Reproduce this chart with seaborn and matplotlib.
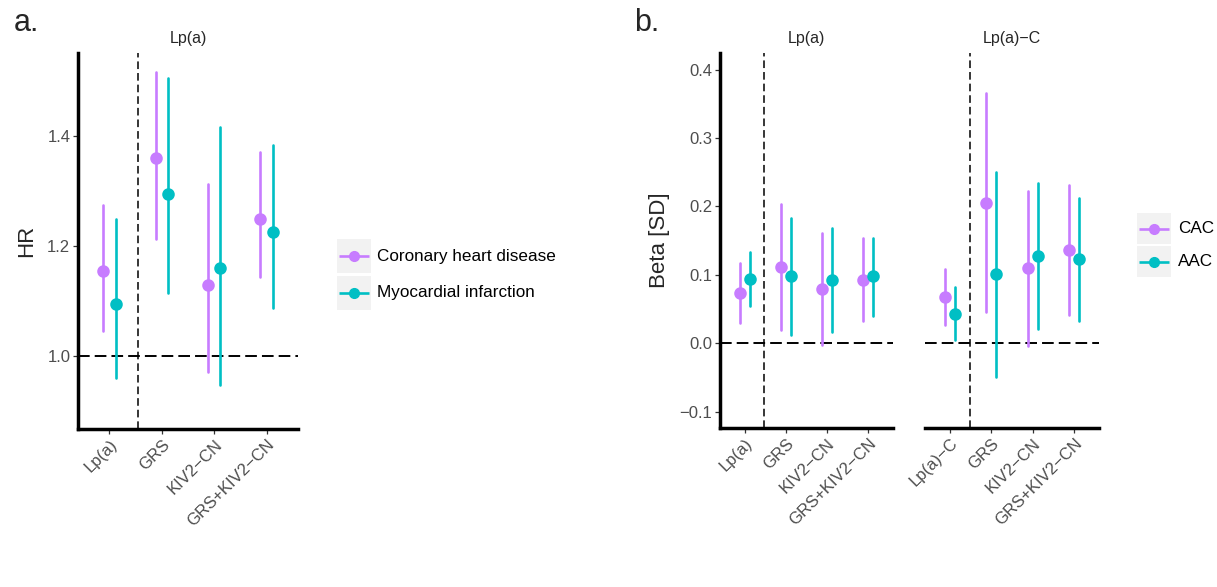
import numpy as np
import pandas as pd
import matplotlib
matplotlib.use("Agg")
import matplotlib.pyplot as plt
import seaborn as sns
from matplotlib.patches import Rectangle

# ---------------- data ----------------
# Panel a: hazard ratios
a_instruments = ["Lp(a)", "GRS", "KIV2\u2212CN", "GRS+KIV2\u2212CN"]
a_outcomes = ["Coronary heart disease", "Myocardial infarction"]
a_chd_hr = [1.155, 1.360, 1.129, 1.249]
a_chd_lo = [1.045, 1.213, 0.971, 1.144]
a_chd_hi = [1.275, 1.516, 1.313, 1.371]
a_mi_hr = [1.095, 1.295, 1.159, 1.226]
a_mi_lo = [0.960, 1.114, 0.947, 1.087]
a_mi_hi = [1.249, 1.506, 1.417, 1.384]

# Panel b: betas
b_outcomes = ["CAC", "AAC"]
b_lpa_instruments = ["Lp(a)", "GRS", "KIV2\u2212CN", "GRS+KIV2\u2212CN"]
b_lpa_cac = [0.074, 0.112, 0.080, 0.093]
b_lpa_cac_lo = [0.030, 0.020, -0.002, 0.032]
b_lpa_cac_hi = [0.117, 0.204, 0.161, 0.154]
b_lpa_aac = [0.094, 0.098, 0.093, 0.098]
b_lpa_aac_lo = [0.054, 0.012, 0.016, 0.040]
b_lpa_aac_hi = [0.134, 0.183, 0.169, 0.154]

b_lpac_instruments = ["Lp(a)\u2212C", "GRS", "KIV2\u2212CN", "GRS+KIV2\u2212CN"]
b_lpac_cac = [0.067, 0.205, 0.110, 0.136]
b_lpac_cac_lo = [0.026, 0.045, -0.004, 0.041]
b_lpac_cac_hi = [0.108, 0.366, 0.223, 0.231]
b_lpac_aac = [0.043, 0.101, 0.128, 0.123]
b_lpac_aac_lo = [0.004, -0.050, 0.021, 0.033]
b_lpac_aac_hi = [0.082, 0.251, 0.234, 0.212]

PURPLE = "#C77CFF"
TEAL = "#00BFC4"


def long_frame(cats, series):
    """series: list of (name, est, lo, hi). Each estimate contributes three
    rows (lo, est, hi) so median = estimate and 100% interval = CI."""
    rows = []
    for name, est, lo, hi in series:
        for c, e, l, h in zip(cats, est, lo, hi):
            for v in (l, e, h):
                rows.append({"instrument": c, "outcome": name, "value": v})
    return pd.DataFrame(rows)


sns.set_style("white")
plt.rcParams["font.family"] = ["Liberation Sans", "DejaVu Sans"]

W, H = 1217, 587
fig = plt.figure(figsize=(W / 100, H / 100), dpi=100)


def px_axes(x0, y0, x1, y1):
    return fig.add_axes([x0 / W, 1 - y1 / H, (x1 - x0) / W, (y1 - y0) / H])


def draw_points(ax, df, cats, outcomes, pal):
    sns.pointplot(data=df, x="instrument", y="value", hue="outcome",
                  order=cats, hue_order=outcomes, palette=pal,
                  estimator="median", errorbar=("pi", 100),
                  dodge=0.24, linestyle="none", markers="o",
                  markersize=7.0, err_kws={"linewidth": 1.9},
                  legend=False, ax=ax)


def style_axes(ax, left=True):
    ax.set_facecolor("none")
    for s in ["top", "right"]:
        ax.spines[s].set_visible(False)
    ax.spines["bottom"].set_linewidth(2.5)
    ax.spines["bottom"].set_color("black")
    if left:
        ax.spines["left"].set_linewidth(2.5)
        ax.spines["left"].set_color("black")
    else:
        ax.spines["left"].set_visible(False)
        ax.tick_params(axis="y", left=False, labelleft=False)
    ax.tick_params(axis="both", length=3.5, width=0.9, color="#333333",
                   labelcolor="#4D4D4D", labelsize=12, pad=2)
    ax.tick_params(axis="x", bottom=True)
    if left:
        ax.tick_params(axis="y", left=True)
    for lab in ax.get_xticklabels():
        lab.set_rotation(45)
        lab.set_ha("right")
        lab.set_rotation_mode("anchor")
    ax.set_xlabel("")
    ax.set_xlim(-0.6, 3.6)
    ax.grid(False)


def ref_lines(ax, xv, yv):
    ax.axhline(yv, color="black", lw=1.4, dashes=(6.0, 2.6), zorder=0)
    ax.axvline(xv, color="black", lw=1.1, dashes=(5.0, 2.6), zorder=0)


# ---------------- panel a ----------------
axa = px_axes(78, 53, 298, 429)
dfa = long_frame(a_instruments, [
    (a_outcomes[0], a_chd_hr, a_chd_lo, a_chd_hi),
    (a_outcomes[1], a_mi_hr, a_mi_lo, a_mi_hi),
])
draw_points(axa, dfa, a_instruments, a_outcomes,
            {a_outcomes[0]: PURPLE, a_outcomes[1]: TEAL})
ref_lines(axa, 0.55, 1.0)
axa.set_ylim(0.867, 1.551)
axa.set_yticks([1.0, 1.2, 1.4])
axa.set_yticklabels(["1.0", "1.2", "1.4"])
style_axes(axa)
axa.set_ylabel("HR", fontsize=16, labelpad=7)
axa.set_title("Lp(a)", fontsize=11.5, pad=7)

# ---------------- panel b ----------------
axb1 = px_axes(720, 53, 893, 428)
axb2 = px_axes(925, 53, 1099, 428)
dfb1 = long_frame(b_lpa_instruments, [
    (b_outcomes[0], b_lpa_cac, b_lpa_cac_lo, b_lpa_cac_hi),
    (b_outcomes[1], b_lpa_aac, b_lpa_aac_lo, b_lpa_aac_hi),
])
dfb2 = long_frame(b_lpac_instruments, [
    (b_outcomes[0], b_lpac_cac, b_lpac_cac_lo, b_lpac_cac_hi),
    (b_outcomes[1], b_lpac_aac, b_lpac_aac_lo, b_lpac_aac_hi),
])
palb = {b_outcomes[0]: PURPLE, b_outcomes[1]: TEAL}
draw_points(axb1, dfb1, b_lpa_instruments, b_outcomes, palb)
draw_points(axb2, dfb2, b_lpac_instruments, b_outcomes, palb)
for ax in (axb1, axb2):
    ref_lines(ax, 0.48, 0.0)
    ax.set_ylim(-0.124, 0.4245)
axb1.set_yticks([-0.1, 0.0, 0.1, 0.2, 0.3, 0.4])
axb1.set_yticklabels(["\u22120.1", "0.0", "0.1", "0.2", "0.3", "0.4"])
style_axes(axb1)
style_axes(axb2, left=False)
axb1.set_ylabel("Beta [SD]", fontsize=16, labelpad=7)
axb2.set_ylabel("")
axb1.set_title("Lp(a)", fontsize=11.5, pad=7)
axb2.set_title("Lp(a)\u2212C", fontsize=11.5, pad=7)

# ---------------- overlay: legends and panel labels ----------------
ov = fig.add_axes([0, 0, 1, 1], zorder=10)
ov.set_xlim(0, W)
ov.set_ylim(H, 0)
ov.axis("off")
ov.patch.set_alpha(0)


def legend_block(x0, ytops, size_w, size_h, labels, colors, tx):
    for yt, lab, col in zip(ytops, labels, colors):
        ov.add_patch(Rectangle((x0, yt), size_w, size_h, facecolor="#F2F2F2",
                               edgecolor="none"))
        yc = yt + size_h / 2
        ov.plot([x0 + 2, x0 + size_w - 2], [yc, yc], color=col, lw=1.9,
                solid_capstyle="butt")
        ov.plot([x0 + size_w / 2], [yc], "o", color=col, markersize=7)
        ov.text(tx, yc, lab, fontsize=12.3, va="center", ha="left",
                color="black")


legend_block(337, [239, 276], 34, 34, a_outcomes, [PURPLE, TEAL], 377)
legend_block(1137, [213, 246], 34, 31, b_outcomes, [PURPLE, TEAL], 1178)

ov.text(14, 31, "a.", fontsize=22, ha="left", va="baseline")
ov.text(634, 31, "b.", fontsize=22, ha="left", va="baseline")

fig.savefig("out.png", dpi=100, facecolor="white")
